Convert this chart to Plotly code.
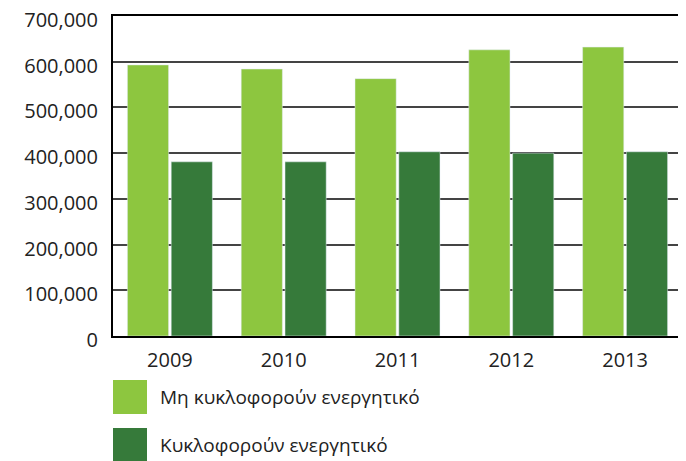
import plotly.graph_objects as go

years = ["2009", "2010", "2011", "2012", "2013"]
non_current = [593000, 584000, 563000, 626000, 632000]
current = [381000, 381000, 403000, 400000, 403000]
names = ["Μη κυκλοφορούν ενεργητικό", "Κυκλοφορούν ενεργητικό"]
colors = ["#8DC63F", "#367A3A"]

font = "Open Sans"

# page body has an 8px margin, so the figure is sized/offset to fit the window
W, H = 678, 453
L, R, T, B = 105, 4, 8, 125
plot_w = W - L - R
plot_h = H - T - B

fig = go.Figure()
fig.add_trace(go.Bar(x=years, y=non_current, name=names[0], marker_color=colors[0]))
fig.add_trace(go.Bar(x=years, y=current, name=names[1], marker_color=colors[1]))

fig.update_layout(
    width=W, height=H,
    margin=dict(l=L, r=R, t=T, b=B, autoexpand=False),
    barmode="group", bargap=0.23, bargroupgap=0.06,
    plot_bgcolor="white", paper_bgcolor="white",
    showlegend=False,
    font=dict(family=font, size=20, color="#222"),
)
fig.update_yaxes(
    range=[0, 700000], dtick=100000, tickformat=",",
    showgrid=True, gridcolor="#444", gridwidth=2,
    showline=True, linecolor="black", linewidth=2,
    ticks="", ticklabelstandoff=9, ticklabelshift=4, automargin=False,
    ticklabeloverflow="allow",
    tickfont=dict(size=20),
)
fig.update_xaxes(
    showline=True, mirror=True, linecolor="black", linewidth=2,
    ticks="", ticklabelstandoff=5, automargin=False,
    tickfont=dict(size=20),
)

# legend drawn by hand for the large square swatches
for i, (name, col) in enumerate(zip(names, colors)):
    top_px = 372 + i * 48  # figure pixels
    y1 = (T + plot_h - top_px) / plot_h
    y0 = (T + plot_h - top_px - 34) / plot_h
    fig.add_shape(type="rect", xref="paper", yref="paper",
                  x0=0.0, x1=34 / plot_w, y0=y0, y1=y1,
                  fillcolor=col, line_width=0)
    fig.add_annotation(xref="paper", yref="paper", x=45 / plot_w, y=(y0 + y1) / 2,
                       text=name, showarrow=False, xanchor="left", yanchor="middle",
                       font=dict(size=19, family=font, color="#222"))

fig.write_html("out.html")
